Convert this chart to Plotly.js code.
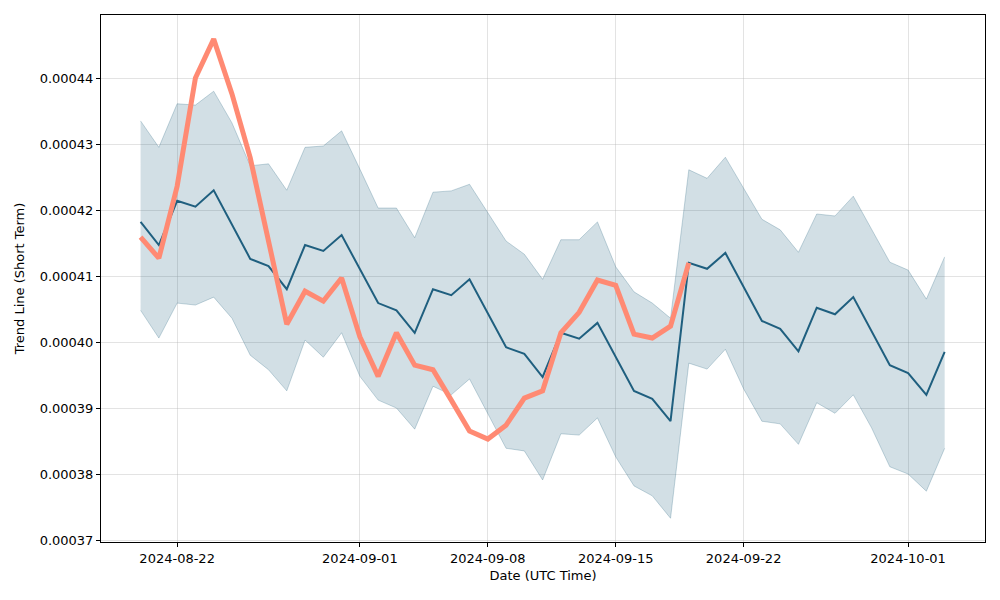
<!DOCTYPE html>
<html>
<head>
<meta charset="utf-8">
<script src="https://cdn.plot.ly/plotly-3.0.1.min.js"></script>
<style>html,body{margin:0;padding:0;background:#fff}#chart{width:1000px;height:600px}</style>
</head>
<body>
<div id="chart"></div>
<script>
const dates = ["2024-08-20","2024-08-21","2024-08-22","2024-08-23","2024-08-24","2024-08-25","2024-08-26","2024-08-27","2024-08-28","2024-08-29","2024-08-30","2024-08-31","2024-09-01","2024-09-02","2024-09-03","2024-09-04","2024-09-05","2024-09-06","2024-09-07","2024-09-08","2024-09-09","2024-09-10","2024-09-11","2024-09-12","2024-09-13","2024-09-14","2024-09-15","2024-09-16","2024-09-17","2024-09-18","2024-09-19","2024-09-20","2024-09-21","2024-09-22","2024-09-23","2024-09-24","2024-09-25","2024-09-26","2024-09-27","2024-09-28","2024-09-29","2024-09-30","2024-10-01","2024-10-02","2024-10-03"];
const trendMean = [0.0004182,0.0004147,0.0004214,0.0004205,0.0004230,0.0004177,0.0004126,0.0004115,0.0004080,0.0004147,0.0004138,0.0004162,0.0004111,0.0004059,0.0004048,0.0004014,0.0004080,0.0004071,0.0004095,0.0004044,0.0003992,0.0003982,0.0003947,0.0004014,0.0004005,0.0004029,0.0003977,0.0003926,0.0003914,0.0003880,0.0004120,0.0004111,0.0004135,0.0004083,0.0004032,0.0004020,0.0003986,0.0004052,0.0004042,0.0004068,0.0004017,0.0003965,0.0003953,0.0003920,0.0003985];
const trendUpper = [0.0004335,0.0004295,0.0004361,0.0004359,0.0004380,0.0004332,0.0004267,0.0004270,0.0004230,0.0004295,0.0004297,0.0004320,0.0004262,0.0004203,0.0004203,0.0004158,0.0004227,0.0004229,0.0004239,0.0004197,0.0004153,0.0004133,0.0004095,0.0004155,0.0004155,0.0004182,0.0004114,0.0004076,0.0004059,0.0004036,0.0004261,0.0004248,0.0004280,0.0004233,0.0004186,0.0004170,0.0004136,0.0004194,0.0004191,0.0004221,0.0004171,0.0004121,0.0004109,0.0004065,0.0004129];
const trendLower = [0.0004048,0.0004006,0.0004059,0.0004056,0.0004068,0.0004036,0.0003980,0.0003958,0.0003926,0.0004003,0.0003977,0.0004014,0.0003948,0.0003912,0.0003900,0.0003868,0.0003933,0.0003920,0.0003944,0.0003891,0.0003839,0.0003835,0.0003791,0.0003861,0.0003859,0.0003885,0.0003826,0.0003782,0.0003767,0.0003733,0.0003968,0.0003959,0.0003989,0.0003929,0.0003880,0.0003876,0.0003845,0.0003908,0.0003892,0.0003920,0.0003870,0.0003811,0.0003800,0.0003774,0.0003839];
const actualDates = dates.slice(0, 31);
const actual = [0.0004159,0.0004127,0.0004236,0.0004400,0.0004459,0.0004376,0.0004279,0.0004155,0.0004027,0.0004077,0.0004062,0.0004097,0.0004008,0.0003948,0.0004014,0.0003965,0.0003958,0.0003912,0.0003865,0.0003853,0.0003874,0.0003915,0.0003926,0.0004014,0.0004045,0.0004094,0.0004086,0.0004012,0.0004006,0.0004024,0.0004120];
const xTickVals = ["2024-08-22","2024-09-01","2024-09-08","2024-09-15","2024-09-22","2024-10-01"];
const yTickVals = [0.00037,0.00038,0.00039,0.00040,0.00041,0.00042,0.00043,0.00044];

const bandLine = 'rgba(31,94,125,0.25)';
const traces = [
  {x: dates, y: trendLower, mode:'lines', line:{color:bandLine, width:1}, hoverinfo:'skip', showlegend:false},
  {x: dates, y: trendUpper, mode:'lines', fill:'tonexty', fillcolor:'rgba(31,94,125,0.2)', line:{color:bandLine, width:1}, showlegend:false},
  {x: dates, y: trendMean, mode:'lines', line:{color:'#1f5f7f', width:2}, showlegend:false},
  {x: actualDates, y: actual, mode:'lines', line:{color:'#ff8a73', width:5}, showlegend:false}
];
const axisFont = {family:'DejaVu Sans', size:13, color:'#000'};
const layout = {
  width:1000, height:600,
  margin:{l:101, r:15, t:15, b:58},
  paper_bgcolor:'#fff', plot_bgcolor:'#fff',
  font: axisFont,
  showlegend:false,
  xaxis:{
    type:'date',
    range:['2024-08-17 20:00','2024-10-05 05:00'],
    tickvals: xTickVals, ticktext: xTickVals,
    ticks:'outside', ticklen:4, tickcolor:'#000',
    showline:true, linecolor:'#000', linewidth:1, mirror:true,
    showgrid:true, gridcolor:'rgba(176,176,176,0.35)', gridwidth:1,
    zeroline:false,
    tickfont: axisFont,
    title:{text:'Date (UTC Time)', font:axisFont, standoff:6}
  },
  yaxis:{
    range:[0.0003697, 0.00044955],
    tickvals: yTickVals, tickformat:'.5f',
    ticks:'outside', ticklen:4, tickcolor:'#000',
    showline:true, linecolor:'#000', linewidth:1, mirror:true,
    showgrid:true, gridcolor:'rgba(176,176,176,0.35)', gridwidth:1,
    zeroline:false,
    tickfont: axisFont,
    title:{text:'Trend Line (Short Term)', font:axisFont, standoff:12}
  }
};
Plotly.newPlot('chart', traces, layout, {displayModeBar:false, staticPlot:true});
</script>
</body>
</html>
